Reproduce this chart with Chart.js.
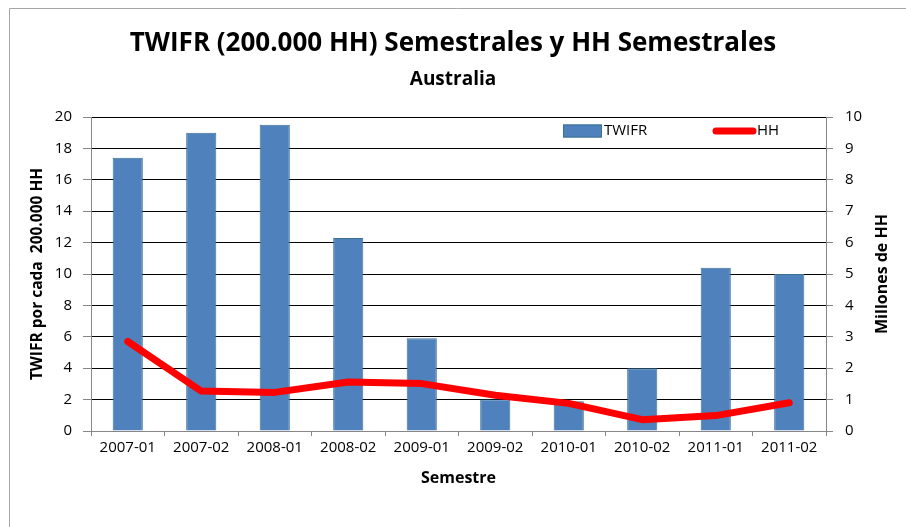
<!DOCTYPE html>
<html>
<head>
<meta charset="utf-8">
<script src="https://cdn.jsdelivr.net/npm/chart.js@4/dist/chart.umd.min.js"></script>
<style>
  html, body { margin: 0; padding: 0; background: #fff; }
  #wrap { position: relative; width: 906px; height: 527px; }
</style>
</head>
<body>
<div id="wrap"><canvas id="chart"></canvas></div>
<script>
// DATA ----------------------------------------------------------------
var semestres = ["2007-01", "2007-02", "2008-01", "2008-02", "2009-01",
                 "2009-02", "2010-01", "2010-02", "2011-01", "2011-02"];
var twifr = [17.4, 19.0, 19.5, 12.3, 5.9, 2.0, 1.9, 4.0, 10.4, 10.0];
var hh = [2.85, 1.27, 1.23, 1.56, 1.51, 1.14, 0.88, 0.36, 0.49, 0.9];
var ticksLeft = [0, 2, 4, 6, 8, 10, 12, 14, 16, 18, 20];
var ticksRight = [0, 1, 2, 3, 4, 5, 6, 7, 8, 9, 10];

// COLOURS -------------------------------------------------------------
var barFill = "#4F81BD";
var barEdge = "#3A7194";
var lineRed = "#FF0000";
var axisGray = "#878787";

Chart.defaults.font.family = "'Open Sans', sans-serif";
Chart.defaults.color = "#000";

// frame, legend and right axis title ---------------------------------
var extras = {
  id: "extras",
  beforeDraw: function(chart) {
    var c = chart.ctx;
    c.save();
    c.strokeStyle = "#A6A6A6";
    c.lineWidth = 1;
    c.beginPath();
    c.moveTo(9.5, chart.height);
    c.lineTo(9.5, 8.5);
    c.lineTo(chart.width, 8.5);
    c.stroke();
    c.restore();
  },
  afterDraw: function(chart) {
    var c = chart.ctx;
    var a = chart.chartArea;
    var ly = a.top + 14;
    c.save();
    // TWIFR entry
    c.fillStyle = barFill;
    c.fillRect(563, ly - 6.5, 39, 13);
    c.strokeStyle = barEdge;
    c.lineWidth = 1;
    c.strokeRect(563.5, ly - 6, 38, 12);
    c.fillStyle = "#000";
    c.font = "15px 'Open Sans'";
    c.textBaseline = "middle";
    c.fillText(chart.data.datasets[0].label, 604, ly);
    // HH entry
    c.strokeStyle = lineRed;
    c.lineWidth = 7;
    c.lineCap = "round";
    c.beginPath();
    c.moveTo(716, ly);
    c.lineTo(753, ly);
    c.stroke();
    c.fillText(chart.data.datasets[1].label, 757, ly);
    // right axis title, read bottom to top
    c.translate(882, (a.top + a.bottom) / 2);
    c.rotate(-Math.PI / 2);
    c.font = "bold 16px 'Open Sans'";
    c.textAlign = "center";
    c.fillText("Millones de HH", 0, 0);
    c.restore();
  }
};

// CHART ---------------------------------------------------------------
var ctx = document.getElementById("chart").getContext("2d");
var chart = new Chart(ctx, {
  type: "bar",
  data: {
    labels: semestres,
    datasets: [{
      type: "bar",
      label: "TWIFR",
      data: twifr,
      yAxisID: "y",
      backgroundColor: barFill,
      borderColor: barEdge,
      borderWidth: 1,
      barPercentage: 0.41,
      categoryPercentage: 1,
      order: 2
    }, {
      type: "line",
      label: "HH",
      data: hh,
      yAxisID: "y1",
      borderColor: lineRed,
      backgroundColor: lineRed,
      borderWidth: 7,
      borderCapStyle: "round",
      borderJoinStyle: "round",
      pointRadius: 0,
      tension: 0,
      order: 1
    }]
  },
  options: {
    responsive: true,
    maintainAspectRatio: false,
    animation: false,
    layout: { padding: 0 },
    plugins: {
      legend: { display: false },
      tooltip: { enabled: false },
      title: {
        display: true,
        text: "TWIFR (200.000 HH) Semestrales y HH Semestrales",
        font: { size: 26, weight: "bold" },
        color: "#000",
        padding: { top: 28, bottom: 3 }
      },
      subtitle: {
        display: true,
        text: "Australia",
        font: { size: 19, weight: "bold" },
        color: "#000",
        padding: { top: 6, bottom: 26 }
      }
    },
    scales: {
      x: {
        offset: true,
        grid: { offset: true, drawOnChartArea: false, tickColor: axisGray, tickLength: 5 },
        border: { color: axisGray },
        ticks: { padding: 3, font: { size: 15 }, maxRotation: 0 },
        title: { display: true, text: "Semestre", font: { size: 16, weight: "bold" }, padding: { top: 4, bottom: 39 } },
        afterFit: function(s) { s.height = 96; }
      },
      y: {
        position: "left",
        min: ticksLeft[0],
        max: ticksLeft[ticksLeft.length - 1],
        ticks: { stepSize: ticksLeft[1] - ticksLeft[0], padding: 11, font: { size: 15 } },
        grid: {
          color: function(c) { return c.tick && c.tick.value === 0 ? axisGray : "#000"; },
          tickColor: axisGray,
          tickLength: 8
        },
        border: { color: axisGray },
        title: { display: true, text: "TWIFR por cada  200.000 HH", font: { size: 15.5, weight: "bold" }, padding: { top: 28, bottom: 4 } },
        afterFit: function(s) { s.width = 91; }
      },
      y1: {
        position: "right",
        min: ticksRight[0],
        max: ticksRight[ticksRight.length - 1],
        ticks: { stepSize: ticksRight[1] - ticksRight[0], padding: 12, font: { size: 15 } },
        grid: { drawOnChartArea: false, tickColor: axisGray, tickLength: 7 },
        border: { color: axisGray },
        afterFit: function(s) { s.width = 80; }
      }
    }
  },
  plugins: [extras]
});
</script>
</body>
</html>
